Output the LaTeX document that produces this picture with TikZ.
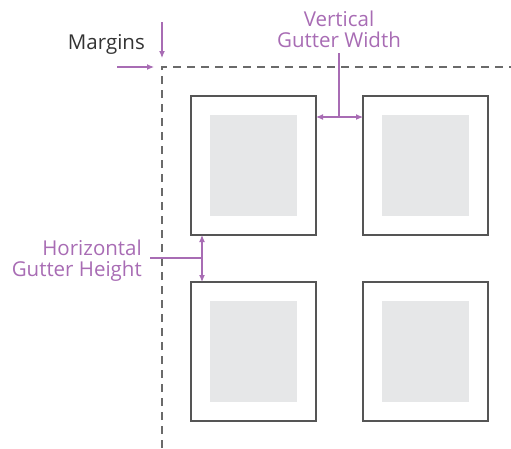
\documentclass[tikz,border=0pt]{standalone}
\usepackage{fontspec}
\setmainfont{Open Sans}
\usetikzlibrary{arrows.meta}
\definecolor{purp}{HTML}{A86CB4}
\definecolor{boxline}{HTML}{555555}
\definecolor{innerg}{HTML}{E6E7E8}
\definecolor{dashg}{HTML}{6A6A6A}
\definecolor{txtg}{HTML}{333333}
\tikzset{
  frame/.style={draw=boxline, line width=1.4pt, fill=white},
  inner/.style={fill=innerg},
  marg/.style={draw=dashg, line width=2.2pt, dash pattern=on 8pt off 6pt},
  dim/.style={draw=purp, line width=1.1pt},
  tip/.style={-{Latex[length=7pt,width=6pt]}},
  lbl/.style={font=\fontsize{20.5}{20.5}\selectfont, inner sep=0pt},
}
\begin{document}
\begin{tikzpicture}[x=1pt,y=-1pt]
\useasboundingbox (0,0) rectangle (511,448);
% margins
\coordinate (mc) at (162,67);
\coordinate (mb) at (162,448);
\coordinate (mr) at (511,67);
\draw[marg] (mb) -- (mc) -- (mr);
% boxes
\foreach \n/\x/\y in {a/191/96, b/363/96, c/191/282, d/363/282}{
  \draw[frame] (\x,\y) rectangle ++(125,139);
  \fill[inner] (\x+19,\y+19) rectangle ++(87,101);
  \coordinate (\n-nw) at (\x,\y);
  \coordinate (\n-ne) at (\x+125,\y);
  \coordinate (\n-sw) at (\x,\y+139);
}
% margins label
\node[lbl, text=txtg, anchor=base east] (mlab) at (145,49) {Margins};
\coordinate (md0) at (162,22);
\coordinate (md1) at (162,58);
\draw[dim, tip] (md0) -- (md1);
\coordinate (mh0) at (117,67);
\coordinate (mh1) at (154,67);
\draw[dim, tip] (mh0) -- (mh1);
% vertical gutter
\node[lbl, text=purp, align=center] (vlab) at (339,29.5) {Vertical\\Gutter Width};
\coordinate (vg1) at (316,117);
\coordinate (vg2) at (363,117);
\coordinate (vgm) at (339,117);
\coordinate (vgt) at (339,53);
\draw[dim] (vgt) -- (vgm);
\draw[dim, {Latex[length=7pt,width=6pt]}-{Latex[length=7pt,width=6pt]}] (vg1) -- (vg2);
% horizontal gutter
\node[lbl, text=purp, align=right, anchor=east] (hlab) at (142,260.5) {Horizontal\\Gutter Height};
\coordinate (hg1) at (202,235);
\coordinate (hg2) at (202,282);
\coordinate (hgm) at (202,258);
\coordinate (hgl) at (150,258);
\draw[dim] (hgl) -- (hgm);
\draw[dim, {Latex[length=7pt,width=6pt]}-{Latex[length=7pt,width=6pt]}] (hg1) -- (hg2);
\end{tikzpicture}
\end{document}
